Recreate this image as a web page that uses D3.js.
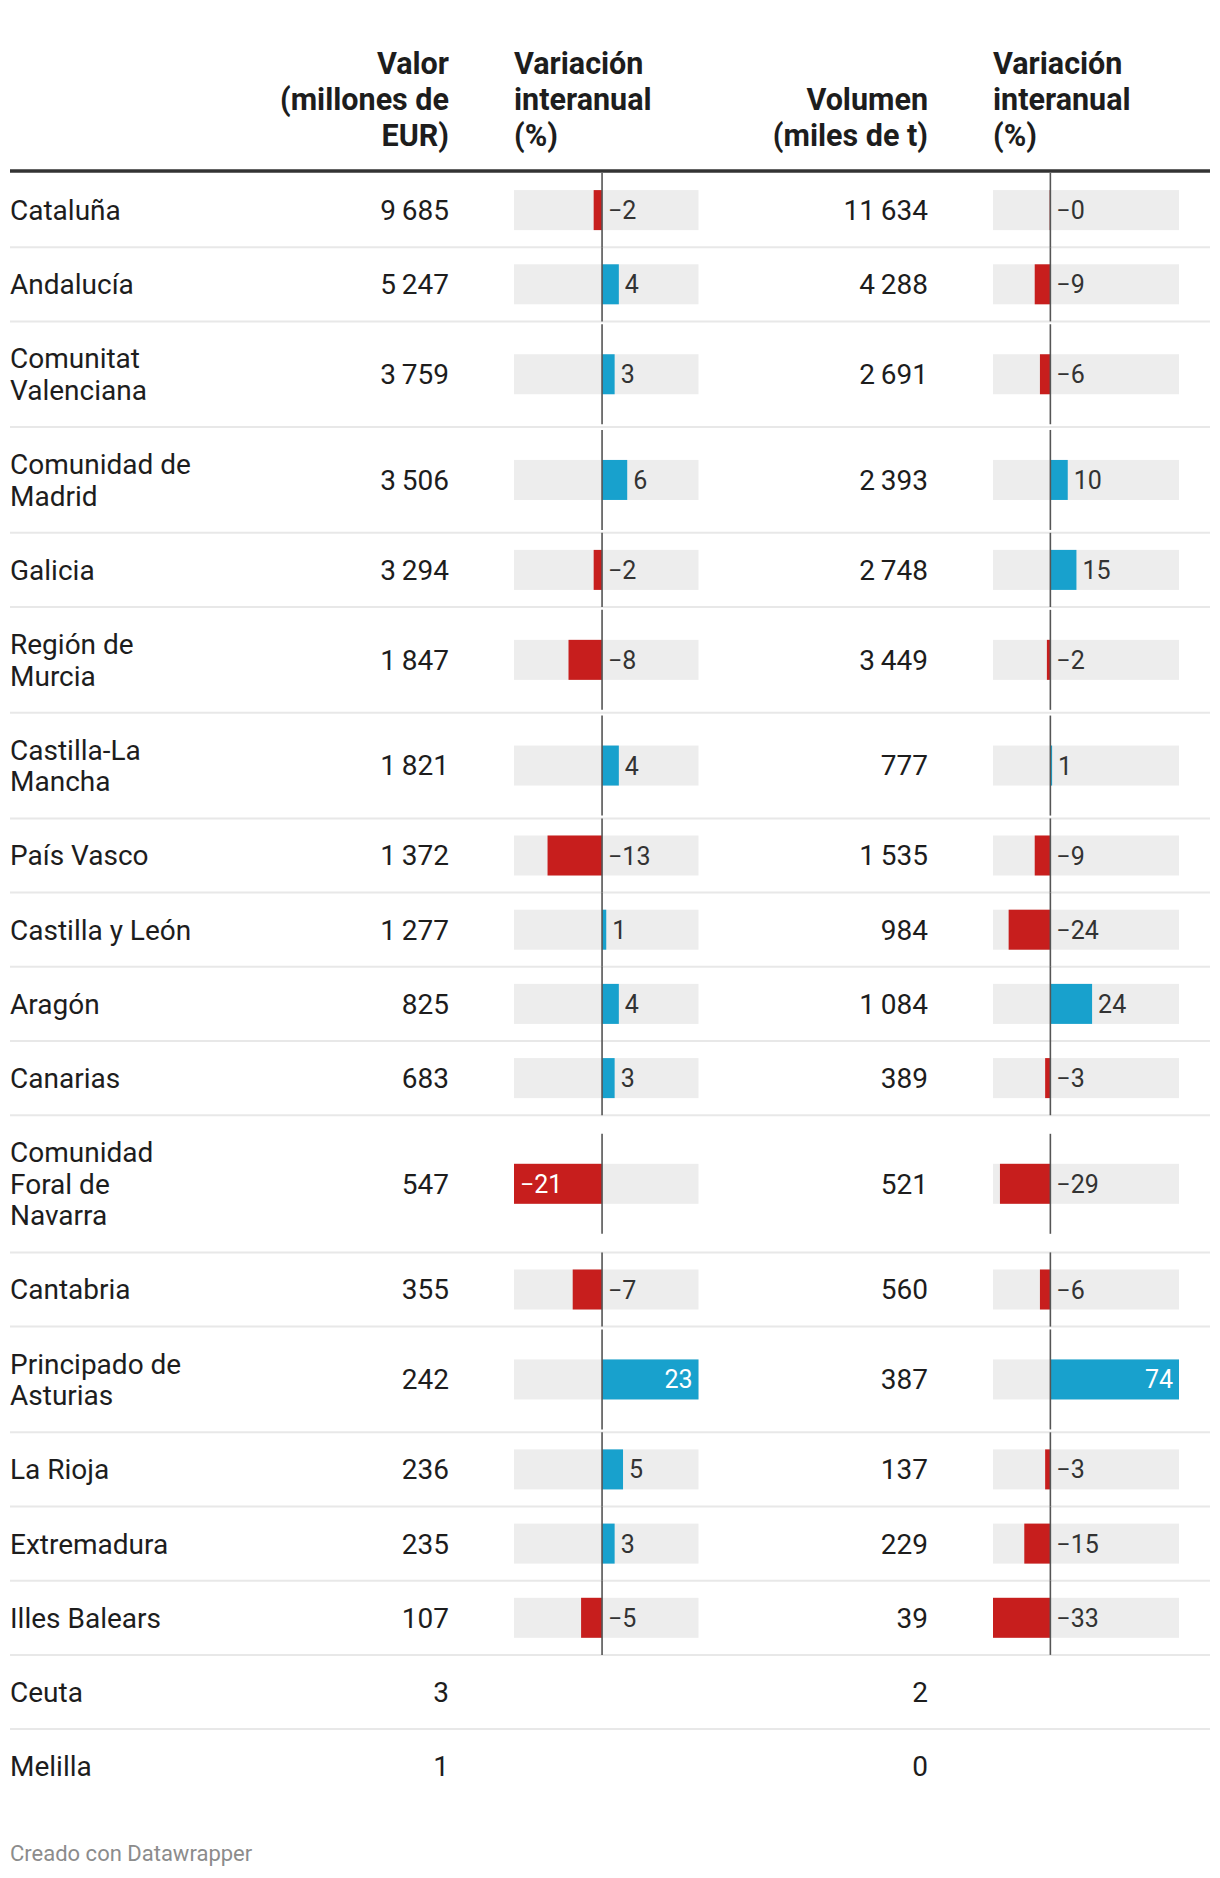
<!DOCTYPE html>
<html>
<head>
<meta charset="utf-8">
<script src="https://cdn.jsdelivr.net/npm/d3@7"></script>
<style>
  html, body { margin: 0; padding: 0; background: #fff; }
  svg { display: block; font-family: Roboto, "Noto Sans", sans-serif; }
</style>
</head>
<body>
<svg id="chart" width="1220" height="1878"></svg>
<script>
// ---------------- DATA ----------------
const categories = [
  "Cataluña", "Andalucía", "Comunitat Valenciana", "Comunidad de Madrid", "Galicia",
  "Región de Murcia", "Castilla-La Mancha", "País Vasco", "Castilla y León", "Aragón",
  "Canarias", "Comunidad Foral de Navarra", "Cantabria", "Principado de Asturias",
  "La Rioja", "Extremadura", "Illes Balears", "Ceuta", "Melilla"
];
const valor = [9685, 5247, 3759, 3506, 3294, 1847, 1821, 1372, 1277, 825, 683, 547, 355, 242, 236, 235, 107, 3, 1];
const varValor = [-2, 4, 3, 6, -2, -8, 4, -13, 1, 4, 3, -21, -7, 23, 5, 3, -5, null, null];
const volumen = [11634, 4288, 2691, 2393, 2748, 3449, 777, 1535, 984, 1084, 389, 521, 560, 387, 137, 229, 39, 2, 0];
const varVolumen = [-0.4, -9, -6, 10, 15, -2, 1, -9, -24, 24, -3, -29, -6, 74, -3, -15, -33, null, null];

const headerValor = ["Valor", "(millones de", "EUR)"];
const headerVarValor = ["Variación", "interanual", "(%)"];
const headerVolumen = ["Volumen", "(miles de t)"];
const headerVarVolumen = ["Variación", "interanual", "(%)"];
const footerText = "Creado con Datawrapper";

// ---------------- LAYOUT ----------------
const svg = d3.select("#chart");
const left = 10, right = 1209;
const bodyFont = 28, headFont = 30.5, barFont = 25;
const lineH = 31.5, rowPad = 42.7;
const headLineH = 36;
const ruleY = 171;
const colValorRight = 449, colVolRight = 928;
const bar1 = [514, 698.5], bar2 = [993, 1179];
const barH = 40;
const RED = "#c71e1d", BLUE = "#18a1cd", BG = "#ededed", TEXT = "#1d1d1d";

const locale = d3.formatLocale({decimal: ",", thousands: "\u2009", grouping: [3], currency: ["", "€"]});
const fmt = locale.format(",d");
const fmtPct = v => (v < 0 ? "\u2212" : "") + Math.abs(Math.round(v));

// Header
function header(lines, x, anchor) {
  const n = 3;
  lines.forEach((t, i) => {
    svg.append("text")
      .attr("x", x)
      .attr("y", 74 + (n - lines.length + i) * headLineH)
      .attr("text-anchor", anchor)
      .attr("font-size", headFont)
      .attr("font-weight", 700)
      .attr("fill", TEXT)
      .text(t);
  });
}
header(headerValor, colValorRight, "end");
header(headerVarValor, bar1[0], "start");
header(headerVolumen, colVolRight, "end");
header(headerVarVolumen, bar2[0], "start");

svg.append("line")
  .attr("x1", left).attr("x2", right + 1)
  .attr("y1", ruleY).attr("y2", ruleY)
  .attr("stroke", "#333").attr("stroke-width", 3.5);

// wrap category labels
const measure = svg.append("text").attr("font-size", bodyFont).attr("visibility", "hidden");
const maxLabelW = 200;
function wrap(str) {
  const words = str.split(" ");
  const lines = [];
  let cur = "";
  words.forEach(w => {
    const test = cur ? cur + " " + w : w;
    measure.text(test);
    if (cur && measure.node().getComputedTextLength() > maxLabelW) {
      lines.push(cur);
      cur = w;
    } else cur = test;
  });
  if (cur) lines.push(cur);
  return lines;
}
const labelLines = categories.map(wrap);
measure.remove();

const rows = [];
let y = ruleY + 2;
categories.forEach((c, i) => {
  const h = rowPad + lineH * labelLines[i].length;
  rows.push({i, top: y, h, center: y + h / 2});
  y += h;
});

const x1 = d3.scaleLinear().domain(d3.extent(varValor.filter(v => v != null))).range(bar1);
const x2 = d3.scaleLinear().domain(d3.extent(varVolumen.filter(v => v != null))).range(bar2);

const g = svg.append("g");

// separators
rows.slice(0, -1).forEach(r => {
  g.append("line")
    .attr("x1", left).attr("x2", right + 1)
    .attr("y1", r.top + r.h).attr("y2", r.top + r.h)
    .attr("stroke", "#e8e8e8").attr("stroke-width", 2);
});

function drawBar(r, v, x) {
  if (v == null) return;
  const [r0, r1] = x.range();
  const z = x(0);
  const cy = r.center;
  g.append("rect")
    .attr("x", r0).attr("width", r1 - r0)
    .attr("y", cy - barH / 2).attr("height", barH)
    .attr("fill", BG);
  const xv = x(v);
  g.append("rect")
    .attr("x", Math.min(z, xv)).attr("width", Math.abs(xv - z))
    .attr("y", cy - barH / 2).attr("height", barH)
    .attr("fill", v < 0 ? RED : BLUE);
  const half = Math.min(r.h / 2, 50);
  g.append("line")
    .attr("x1", z).attr("x2", z)
    .attr("y1", cy - half).attr("y2", cy + half)
    .attr("stroke", "#555").attr("stroke-width", 1.6);
  const inside = Math.abs(xv - z) > 0.4 * (r1 - r0);
  const t = g.append("text")
    .attr("y", cy)
    .attr("dy", "0.36em")
    .attr("font-size", barFont)
    .text(fmtPct(v));
  if (inside) {
    if (v < 0) t.attr("x", xv + 6).attr("text-anchor", "start");
    else t.attr("x", xv - 6).attr("text-anchor", "end");
    t.attr("fill", "#fff");
  } else {
    t.attr("x", Math.max(z, xv) + 6).attr("text-anchor", "start").attr("fill", "#333");
  }
}

rows.forEach(r => {
  const lines = labelLines[r.i];
  const firstY = r.center - (lines.length - 1) * lineH / 2;
  lines.forEach((t, k) => {
    g.append("text")
      .attr("x", left)
      .attr("y", firstY + k * lineH)
      .attr("dy", "0.355em")
      .attr("font-size", bodyFont)
      .attr("fill", TEXT)
      .text(t);
  });
  g.append("text")
    .attr("x", colValorRight).attr("y", r.center).attr("dy", "0.355em")
    .attr("text-anchor", "end").attr("font-size", bodyFont).attr("fill", TEXT)
    .text(fmt(valor[r.i]));
  g.append("text")
    .attr("x", colVolRight).attr("y", r.center).attr("dy", "0.355em")
    .attr("text-anchor", "end").attr("font-size", bodyFont).attr("fill", TEXT)
    .text(fmt(volumen[r.i]));
  drawBar(r, varValor[r.i], x1);
  drawBar(r, varVolumen[r.i], x2);
});

svg.append("text")
  .attr("x", left).attr("y", 1861)
  .attr("font-size", 22)
  .attr("fill", "#8c8c8c")
  .text(footerText);
</script>
</body>
</html>
